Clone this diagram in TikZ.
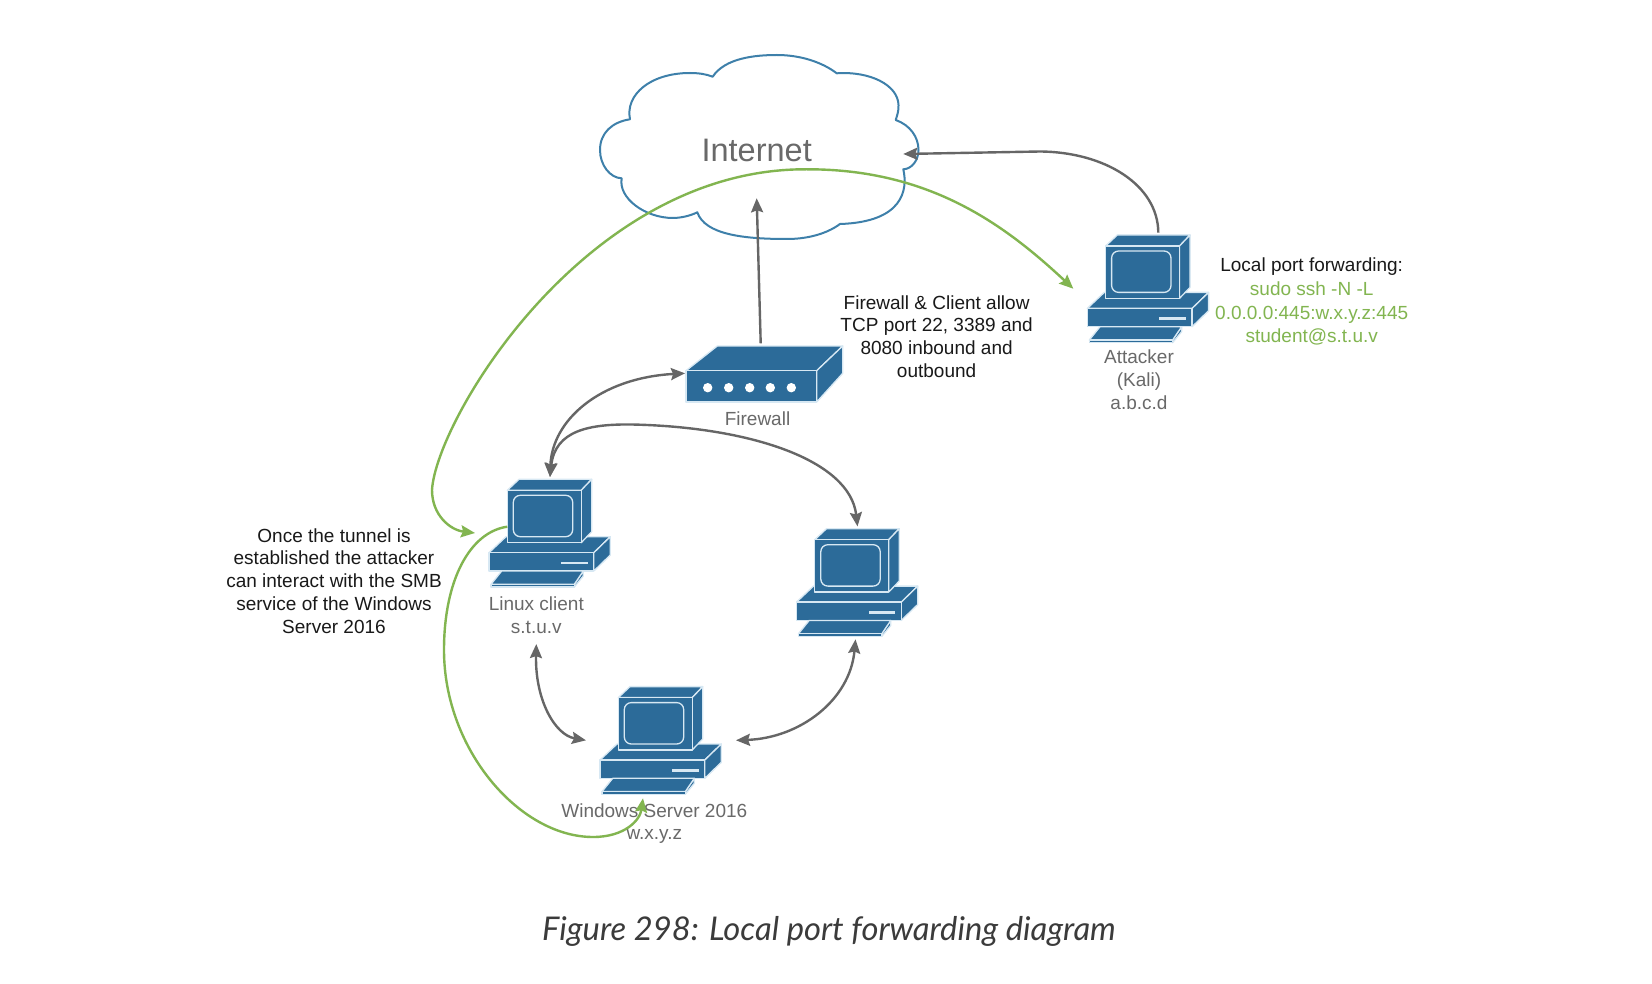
\documentclass[tikz,border=0pt]{standalone}
\usepackage{fontspec}
\setmainfont{Liberation Sans}
\newfontfamily\capfont{Lato}
\usepackage{xcolor}
\definecolor{pcblue}{RGB}{44,107,153}
\definecolor{pcedge}{RGB}{215,232,243}
\definecolor{cloudblue}{RGB}{62,128,170}
\definecolor{linkgray}{RGB}{102,102,102}
\definecolor{tunnelgreen}{RGB}{130,181,80}
\definecolor{textgray}{RGB}{105,105,105}
\definecolor{textblack}{RGB}{25,25,25}
\usepackage{tikz}
\usetikzlibrary{arrows.meta}
\tikzset{
  pcpart/.style={fill=pcblue, draw=pcedge, line width=1.3pt, line join=round},
  graylink/.style={draw=linkgray, line width=2.4pt},
  greenlink/.style={draw=tunnelgreen, line width=2.4pt},
  lbl/.style={font=\fontsize{19}{22.8}\selectfont, text=textgray, align=center, inner sep=0pt},
  note/.style={font=\fontsize{19}{22.8}\selectfont, text=textblack, align=center, inner sep=0pt},
  greennote/.style={font=\fontsize{19}{23.2}\selectfont, text=tunnelgreen, align=center, inner sep=0pt},
  pics/computer/.style={code={
      % Base
      \draw[pcpart] (0,-34.3) -- (17,-50.3) -- (121.3,-50.3) -- (104.8,-34.3) -- cycle;
      \draw[pcpart] (104.8,-34.3) -- (121.3,-50.3) -- (121.3,-32) -- (104.8,-16) -- cycle;
      \draw[pcpart] (0,-34.3) rectangle (104.8,-16);
      \fill[pcedge] (72,-25.2) rectangle (98.7,-22.8);
      % Keyboard
      \draw[pcpart] (94.3,-16) -- (94.3,-11) -- (85.3,0) -- (85.3,-2.7) -- cycle;
      \draw[pcpart] (12.7,-16) -- (94.3,-16) -- (85.3,-2.7) -- (2,-2.7) -- cycle;
      \draw[pcpart] (2,-2.7) -- (85.3,-2.7) -- (85.3,0) -- (2,0) -- cycle;
      % Monitor
      \draw[pcpart] (18.3,-96.7) -- (30,-107.7) -- (102.7,-107.7) -- (92.2,-96.7) -- cycle;
      \draw[pcpart] (92.2,-96.7) -- (102.7,-107.7) -- (102.7,-55.3) -- (92.2,-44.3) -- cycle;
      \draw[pcpart] (18.3,-96.7) rectangle (92.2,-44.3);
      \draw[pcpart, rounded corners=7pt] (24.3,-91.7) rectangle (83.7,-50.3);
      % Ends for the links
      \coordinate (-top) at (61,-110);
      \coordinate (-left) at (-14,-54);
      \coordinate (-right) at (136,-54);
      \coordinate (-bottom) at (59,3);
      \coordinate (-screen) at (18.3,-60.3);
  }},
  pics/router/.style={code={
      \draw[pcpart] (0,-31.3) -- (31.3,-56) -- (156.7,-56) -- (130.7,-31.3) -- cycle;
      \draw[pcpart] (130.7,-31.3) -- (156.7,-56) -- (156.7,-28.7) -- (130.7,0) -- cycle;
      \draw[pcpart] (0,-31.3) rectangle (130.7,0);
      \fill[white] (21.7,-14.3) circle (4.7);
      \fill[white] (42.7,-14.3) circle (4.7);
      \fill[white] (63.7,-14.3) circle (4.7);
      \fill[white] (84.3,-14.3) circle (4.7);
      \fill[white] (105.3,-14.3) circle (4.7);
      \coordinate (-top) at (74.7,-58.7);
      \coordinate (-left) at (-1,-28.7);
  }}
}
\begin{document}
\begin{tikzpicture}[x=1pt, y=-1pt]
  \fill[white] (0,0) rectangle (1652,984);
  \useasboundingbox (0,0) rectangle (1652,984);

  % Internet cloud
  \draw[cloudblue, line width=2pt, line join=round]
    (712.7,76.7) .. controls (725,58) and (755,55) .. (777,55)
    .. controls (800,55) and (822,62) .. (836.7,73.3)
    .. controls (870,71) and (898,85) .. (898.5,105)
    .. controls (899,110) and (897,116) .. (895.7,120)
    .. controls (910,125) and (918.5,137) .. (918.5,150)
    .. controls (918.5,160) and (912,169) .. (903.3,169.3)
    .. controls (908,190) and (903,222) .. (840,224)
    .. controls (825,235) and (805,239) .. (787,239)
    .. controls (745,239) and (705,235) .. (697.3,212.3)
    .. controls (690,216) and (680,218) .. (673,218)
    .. controls (645,218) and (618,198) .. (621.7,178.3)
    .. controls (610,178) and (600,165) .. (600,150)
    .. controls (600,133) and (612,122) .. (630,119.3)
    .. controls (625,95) and (650,73) .. (690,73)
    .. controls (698,73) and (706,74) .. (712.7,76.7) -- cycle;
  \node[font=\fontsize{32.5}{36}\selectfont, text=textgray, inner sep=0pt] (internet) at (756.7,150) {Internet};
  \coordinate (cloudright) at (903.3,154);
  \coordinate (cloudbottom) at (756.7,198.3);

  % Machines
  \pic (attacker) at (1087.3,342.7) {computer};
  \pic (firewall) at (686,402) {router};
  \pic (linux) at (489,587) {computer};
  \pic (desktop) at (796.5,636.4) {computer};
  \pic (windows) at (600,794.3) {computer};

  % Machine labels
  \node[lbl] (firewalllbl) at (757.5,418.5) {Firewall};
  \node[lbl] (attackerlbl) at (1139,379.5) {Attacker\\(Kali)\\a.b.c.d};
  \node[lbl] (linuxlbl) at (536.3,615.5) {Linux client\\s.t.u.v};
  \node[lbl] (windowslbl) at (654.3,823.5) {Windows Server 2016\\w.x.y.z};

  % Gray links
  \draw[graylink, -{Stealth[length=14pt, width=12pt, inset=2pt]}]
    ([xshift=10pt]attacker-top) .. controls (1158,185) and (1105,152) .. (1040,151.5) -- (cloudright);
  \draw[graylink, -{Stealth[length=14pt, width=12pt, inset=2pt]}] (firewall-top) -- (cloudbottom);
  \draw[graylink, {Stealth[length=14pt, width=12pt, inset=2pt]}-{Stealth[length=14pt, width=12pt, inset=2pt]}]
    (linux-top) .. controls (552,420) and (600,378) .. (firewall-left);
  \draw[graylink, {Stealth[length=14pt, width=12pt, inset=2pt]}-{Stealth[length=14pt, width=12pt, inset=2pt]}]
    (linux-top) .. controls (555,430) and (590,424) .. (632,424.5)
    .. controls (750,427) and (850,460) .. (desktop-top);
  \draw[graylink, {Stealth[length=14pt, width=12pt, inset=2pt]}-{Stealth[length=14pt, width=12pt, inset=2pt]}]
    ([yshift=-10pt]linuxlbl.south) .. controls (535,700) and (555,735) .. (windows-left);
  \draw[graylink, {Stealth[length=14pt, width=12pt, inset=2pt]}-{Stealth[length=14pt, width=12pt, inset=2pt]}]
    (desktop-bottom) .. controls (850,700) and (800,738) .. (windows-right);

  % Green tunnel
  \draw[greenlink, {Stealth[length=14pt, width=12pt, inset=2pt]}-{Stealth[length=14pt, width=12pt, inset=2pt]}]
    (linux-left) .. controls (450,530) and (432,515) .. (432,490)
    .. controls (436,420) and (586,168) .. (806.7,169.3)
    .. controls (930,169) and (1005,225) .. (attacker-left);
  \draw[greenlink, -{Stealth[length=14pt, width=12pt, inset=2pt]}]
    (linux-screen) .. controls (470,532) and (444,580) .. (444,650)
    .. controls (444,750) and (520,837) .. (593,837)
    .. controls (625,837) and (640,820) .. ([xshift=-16pt,yshift=-1pt]windows-bottom);

  % Notes
  \node[note] (rulesnote) at (936.6,336.6) {Firewall \& Client allow\\TCP port 22, 3389 and\\8080 inbound and\\outbound};
  \node[note] (fwdtitle) at (1311.7,266.5) {Local port forwarding:};
  \node[greennote] (fwdcmd) at (1311.7,313.5) {sudo ssh -N -L\\0.0.0.0:445:w.x.y.z:445\\student@s.t.u.v};
  \node[note] (tunnelnote) at (334,581) {Once the tunnel is\\established the attacker\\can interact with the SMB\\service of the Windows\\Server 2016};

  % Caption
  \node[font=\capfont\itshape\fontsize{32.7}{38}\selectfont, text=textblack!85, inner sep=0pt] (caption) at (829,931) {Figure 298: Local port forwarding diagram};
\end{tikzpicture}
\end{document}
